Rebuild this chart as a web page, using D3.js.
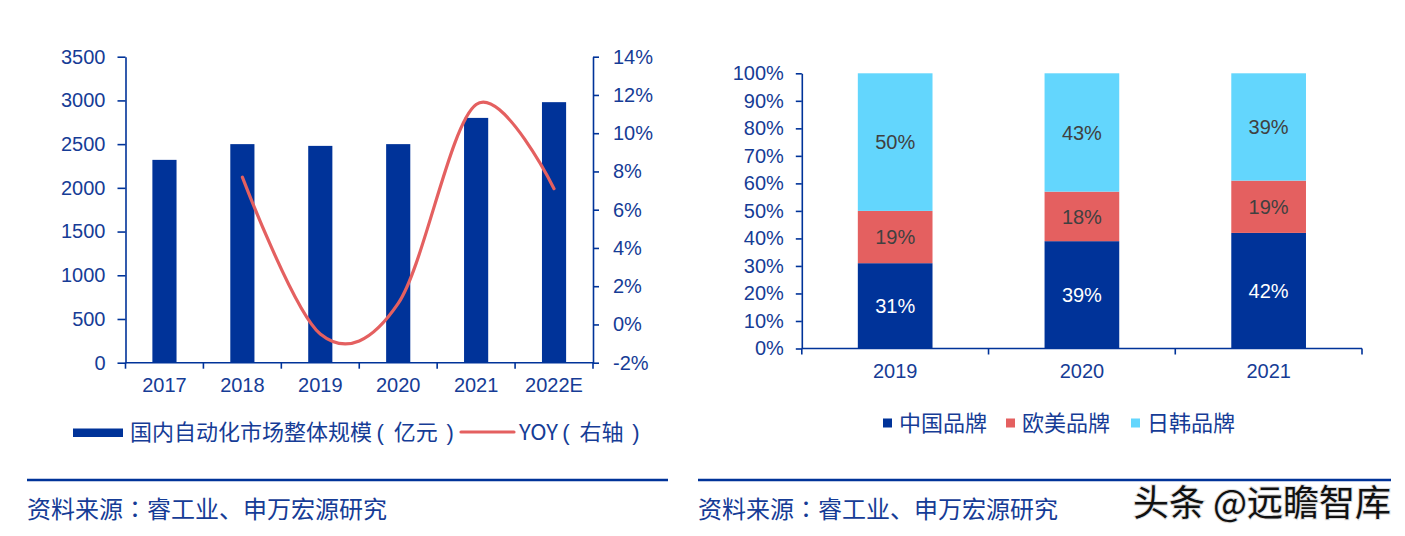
<!DOCTYPE html>
<html><head><meta charset="utf-8">
<script src="https://cdn.jsdelivr.net/npm/d3@7/dist/d3.min.js"></script>
<style>
body{margin:0;background:#fff;}
svg{display:block;font-family:"Liberation Sans",Arial,"Noto Sans CJK SC",sans-serif;}
</style></head>
<body><svg id="c" width="1405" height="536"></svg>
<script>
// ---- data: left chart ----
const years = ["2017","2018","2019","2020","2021","2022E"];
const marketSize = [2320, 2500, 2480, 2500, 2800, 2980];          // 亿元
const yoyYears = ["2018","2019","2020","2021","2022E"];
const yoy = [7.7, -0.5, 1.1, 11.5, 7.1];                           // %
const leftTicks = [0,500,1000,1500,2000,2500,3000,3500];
const rightTicks = [-2,0,2,4,6,8,10,12,14];
const leftLegend = ["国内自动化市场整体规模（亿元）", "YOY（右轴）"];
// ---- data: right chart ----
const brandYears = ["2019","2020","2021"];
const brandNames = ["中国品牌","欧美品牌","日韩品牌"];
const chinaShare = [31, 39, 42];
const westShare = [19, 18, 19];
const jkShare = [50, 43, 39];
const pctTicks = [0,10,20,30,40,50,60,70,80,90,100];
const sourceText = "资料来源：睿工业、申万宏源研究";
const watermark = "头条 @远瞻智库";

const BLUE="#003399", RED="#E46060", CYAN="#63D6FD", TXT="#163C96";
const CJK="'Noto Sans CJK SC',sans-serif", CJKC="'Noto Sans CJK TC',sans-serif";
const LAT="'Liberation Sans',Arial,sans-serif";
const svg = d3.select("#c");

// text with Office-style spaced punctuation
function cjkText(sel, str){
  const parts = str.split(/([（）：])/).filter(s=>s.length);
  sel.attr("font-family",CJK);
  let nextDx = 0;
  parts.forEach(p=>{
    const t = sel.append("tspan");
    if (p==="（"){ t.text("(").attr("font-family",LAT).attr("dx","0.2em"); nextDx=0.45; }
    else if (p==="）"){ t.text(")").attr("font-family",LAT).attr("dx","0.4em"); nextDx=0.2; }
    else if (p==="："){ t.text(p).attr("font-family",CJKC); nextDx=0; }
    else { t.text(p); if(nextDx) t.attr("dx",nextDx+"em"); nextDx=0; }
  });
  return sel;
}

// ================= LEFT CHART =================
const L = {x0:125.5, x1:593, y0:362.7, y1:56.7};
const xL = d3.scaleBand().domain(years).range([L.x0,L.x1]).paddingInner(0.69).paddingOuter(0.345);
const xLc = d3.scaleBand().domain(years).range([L.x0,L.x1]).padding(0);
const yL = d3.scaleLinear().domain([0,3500]).range([L.y0,L.y1]);
const yR = d3.scaleLinear().domain([-2,14]).range([L.y0,L.y1]);

const gL = svg.append("g");
gL.selectAll("rect.bar").data(years).join("rect")
  .attr("x",d=>xL(d)).attr("width",xL.bandwidth())
  .attr("y",(d,i)=>yL(marketSize[i])).attr("height",(d,i)=>yL(0)-yL(marketSize[i]))
  .attr("fill",BLUE);

function styleAxis(g){
  g.select(".domain").attr("stroke",BLUE).attr("stroke-width",1.6);
  g.selectAll(".tick line").attr("stroke",BLUE).attr("stroke-width",1.6);
  g.selectAll(".tick text").attr("fill",TXT).attr("font-size",20);
}
const axL = gL.append("g").attr("transform",`translate(${L.x0},0)`)
  .call(d3.axisLeft(yL).tickValues(leftTicks).tickSize(8).tickPadding(12).tickSizeOuter(0).tickFormat(d3.format("d")));
styleAxis(axL);
const axR = gL.append("g").attr("transform",`translate(${L.x1},0)`)
  .call(d3.axisRight(yR).tickValues(rightTicks).tickSize(6).tickPadding(14).tickSizeOuter(0).tickFormat(d=>d+"%"));
styleAxis(axR);
const axX = gL.append("g").attr("transform",`translate(0,${L.y0})`)
  .call(d3.axisBottom(xLc).tickSize(0).tickPadding(15).tickSizeOuter(0));
styleAxis(axX);
axX.select(".domain").attr("d",`M${L.x0},0H${L.x1}`);
const bL = years.map(d=>xLc(d)).concat([L.x1]);
axX.selectAll("line.bt").data(bL).join("line").attr("class","bt")
  .attr("x1",d=>d).attr("x2",d=>d).attr("y1",0).attr("y2",6)
  .attr("stroke",BLUE).attr("stroke-width",1.6);

const line = d3.line().curve(d3.curveCardinal.tension(0))
  .x((d,i)=>xLc(yoyYears[i])+xLc.bandwidth()/2).y(d=>yR(d));
gL.append("path").datum(yoy).attr("d",line).attr("fill","none")
  .attr("stroke",RED).attr("stroke-width",3.2).attr("stroke-linecap","round");

// left legend
gL.append("rect").attr("x",73).attr("y",428.5).attr("width",50).attr("height",8.5).attr("fill",BLUE);
cjkText(gL.append("text").attr("x",130).attr("y",432).attr("dy","0.36em").attr("font-size",22).attr("fill",TXT), leftLegend[0]);
gL.append("line").attr("x1",461).attr("x2",514).attr("y1",432).attr("y2",432)
  .attr("stroke",RED).attr("stroke-width",3.2).attr("stroke-linecap","round");
cjkText(gL.append("text").attr("x",519).attr("y",432).attr("dy","0.36em").attr("font-size",22).attr("fill",TXT), leftLegend[1]);

// ================= RIGHT CHART =================
const R = {x0:801.8, x1:1362, y0:348.5, y1:73.3};
const xB = d3.scaleBand().domain(brandYears).range([R.x0,R.x1]).paddingInner(0.6).paddingOuter(0.3);
const xBc = d3.scaleBand().domain(brandYears).range([R.x0,R.x1]).padding(0);
const yP = d3.scaleLinear().domain([0,100]).range([R.y0,R.y1]);
const gR = svg.append("g");

const rows = brandYears.map((y,i)=>({year:y, c:chinaShare[i], w:westShare[i], j:jkShare[i]}));
const stack = d3.stack().keys(["c","w","j"])(rows);
const colors = [BLUE,RED,CYAN];
const labelColors = ["#ffffff","#404040","#404040"];
stack.forEach((layer,k)=>{
  gR.selectAll(null).data(layer).join("rect")
    .attr("x",d=>xB(d.data.year)).attr("width",xB.bandwidth())
    .attr("y",d=>yP(d[1])).attr("height",d=>yP(d[0])-yP(d[1]))
    .attr("fill",colors[k]);
  gR.selectAll(null).data(layer).join("text")
    .attr("x",d=>xB(d.data.year)+xB.bandwidth()/2).attr("y",d=>yP((d[0]+d[1])/2))
    .attr("dy","0.36em").attr("text-anchor","middle").attr("font-size",20)
    .attr("fill",labelColors[k]).text(d=>(d[1]-d[0])+"%");
});
const axP = gR.append("g").attr("transform",`translate(${R.x0},0)`)
  .call(d3.axisLeft(yP).tickValues(pctTicks).tickSize(6).tickPadding(12).tickSizeOuter(0).tickFormat(d=>d+"%"));
styleAxis(axP);
const axB = gR.append("g").attr("transform",`translate(0,${R.y0})`)
  .call(d3.axisBottom(xBc).tickSize(0).tickPadding(15).tickSizeOuter(0));
styleAxis(axB);
axB.select(".domain").attr("d",`M${R.x0},0H${R.x1}`);
const bR = brandYears.map(d=>xBc(d)).concat([R.x1]);
axB.selectAll("line.bt").data(bR).join("line").attr("class","bt")
  .attr("x1",d=>d).attr("x2",d=>d).attr("y1",0).attr("y2",6)
  .attr("stroke",BLUE).attr("stroke-width",1.6);

const legX = [883, 1006, 1131];
brandNames.forEach((n,i)=>{
  gR.append("rect").attr("x",legX[i]).attr("y",418.5).attr("width",9).attr("height",9).attr("fill",colors[i]);
  gR.append("text").attr("x",legX[i]+16).attr("y",423).attr("dy","0.36em").attr("font-size",22)
    .attr("fill",TXT).attr("font-family",CJK).text(n);
});

// ================= FOOTERS =================
[[27,668],[698,1391]].forEach(([a,b])=>{
  svg.append("line").attr("x1",a).attr("x2",b).attr("y1",480).attr("y2",480)
    .attr("stroke",BLUE).attr("stroke-width",2.5);
  cjkText(svg.append("text").attr("x",a).attr("y",509).attr("dy","0.36em").attr("font-size",24)
    .attr("fill",TXT), sourceText);
});
svg.append("text").attr("x",1391).attr("y",503).attr("dy","0.36em").attr("text-anchor","end")
  .attr("font-size",36).attr("font-family",CJK).attr("font-weight",400)
  .attr("fill","#111").attr("stroke","#ddd").attr("stroke-width",2).attr("paint-order","stroke")
  .text(watermark);
</script></body></html>
